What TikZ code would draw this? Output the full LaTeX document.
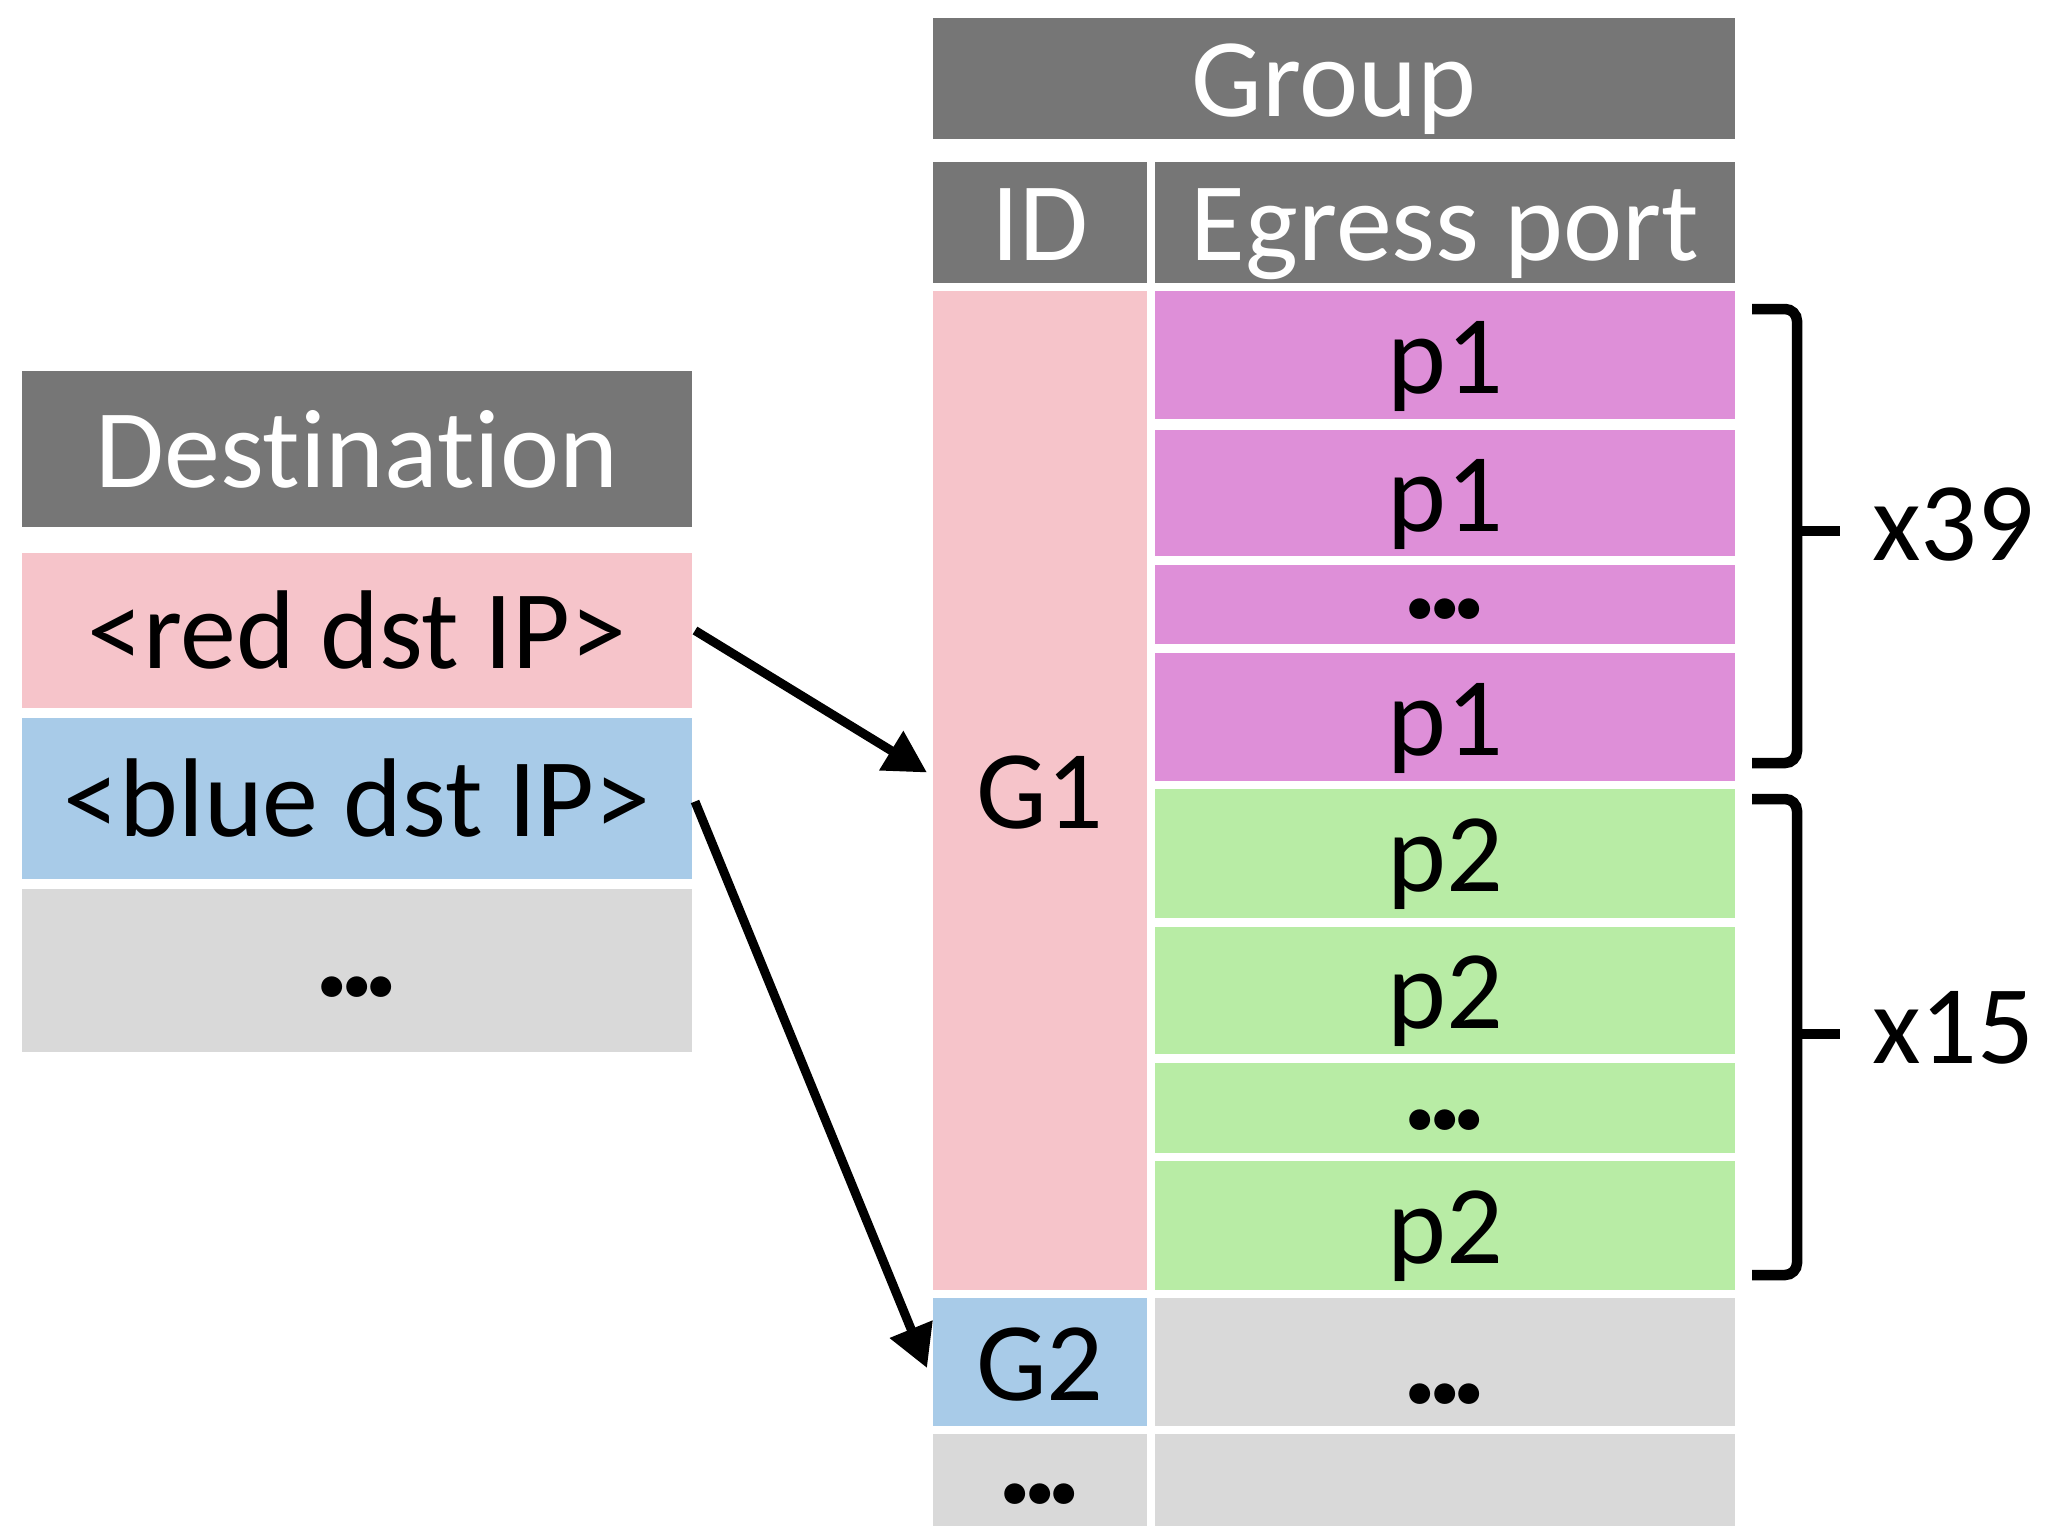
\documentclass[tikz,border=0pt]{standalone}
\usepackage{fontspec}
\setmainfont{Carlito}[Ligatures=NoCommon]
\usetikzlibrary{arrows.meta}

\definecolor{hdr}{RGB}{118,118,118}
\definecolor{rowpink}{RGB}{246,196,202}
\definecolor{rowblue}{RGB}{168,203,232}
\definecolor{rowgray}{RGB}{217,217,217}
\definecolor{rowmag}{RGB}{222,143,216}
\definecolor{rowgreen}{RGB}{184,236,165}

% three heavy dots used as "..." in the tables
\newcommand\heavydots{{\fontsize{140}{140}\selectfont\bfseries .\kern-13pt.\kern-13pt.}}

\begin{document}
\begin{tikzpicture}[x=1pt,y=-1pt,
  cell/.style={inner sep=0pt, outer sep=0pt, anchor=north west,
    text height=76pt, text depth=0pt,
    font=\fontsize{112}{134}\selectfont},
  headcell/.style={cell, fill=hdr, text=white},
  arr/.style={line width=9pt, -{Triangle[length=42pt,width=44pt]}},
  bracket/.style={line width=10.5pt, rounded corners=12pt},
  countlbl/.style={inner sep=0pt, anchor=base west,
    font=\fontsize{112}{134}\selectfont}]

\useasboundingbox (0,0) rectangle (2049,1526);
\fill[white] (0,0) rectangle (2049,1526);

% Destination table
\node[headcell, minimum width=670pt, minimum height=156pt] (dest) at (22,371) {Destination};
\node[cell, fill=rowpink, minimum width=670pt, minimum height=155pt] (red) at (22,553) {<red dst IP>};
\node[cell, fill=rowblue, minimum width=670pt, minimum height=161pt] (blue) at (22,718) {<blue dst IP>};
\node[cell, fill=rowgray, minimum width=670pt, minimum height=163pt, text height=52pt] (more) at (22,889) {\heavydots};

% Group table: headers
\node[headcell, minimum width=802pt, minimum height=121pt] (group) at (933,18) {Group};
\node[headcell, minimum width=214pt, minimum height=121pt] (idh) at (933,162) {ID};
\node[headcell, minimum width=580pt, minimum height=121pt] (egh) at (1155,162) {Egress port};

% Group G1
\node[cell, fill=rowpink, minimum width=214pt, minimum height=999pt] (g1) at (933,291) {G1};
\node[cell, fill=rowmag, minimum width=580pt, minimum height=128pt] (p1a) at (1155,291) {p1};
\node[cell, fill=rowmag, minimum width=580pt, minimum height=126pt] (p1b) at (1155,430) {p1};
\node[cell, fill=rowmag, minimum width=580pt, minimum height=79pt, text height=28pt] (p1c) at (1155,565) {\heavydots};
\node[cell, fill=rowmag, minimum width=580pt, minimum height=128pt] (p1d) at (1155,653) {p1};
\node[cell, fill=rowgreen, minimum width=580pt, minimum height=129pt] (p2a) at (1155,789) {p2};
\node[cell, fill=rowgreen, minimum width=580pt, minimum height=127pt] (p2b) at (1155,927) {p2};
\node[cell, fill=rowgreen, minimum width=580pt, minimum height=90pt, text height=42pt] (p2c) at (1155,1063) {\heavydots};
\node[cell, fill=rowgreen, minimum width=580pt, minimum height=129pt] (p2d) at (1155,1161) {p2};

% Group G2 and following rows
\node[cell, fill=rowblue, minimum width=214pt, minimum height=128pt] (g2) at (933,1298) {G2};
\node[cell, fill=rowgray, minimum width=580pt, minimum height=128pt, text height=82pt] (g2e) at (1155,1298) {\heavydots};
\node[cell, fill=rowgray, minimum width=214pt, minimum height=92pt, text height=46pt] (lastid) at (933,1434) {\heavydots};
\node[cell, fill=rowgray, minimum width=580pt, minimum height=92pt, text height=0pt] (laste) at (1155,1434) {};

% Brackets with repetition counts
\coordinate (b1tick) at (1840,531);
\draw[bracket] (1752,309) -- (1797,309) -- (1797,763) -- (1752,763);
\draw[line width=10.5pt] (1797,531) -- (b1tick);
\node[countlbl] (n39) at (1872,560) {x39};

\coordinate (b2tick) at (1840,1034);
\draw[bracket] (1752,799) -- (1797,799) -- (1797,1275) -- (1752,1275);
\draw[line width=10.5pt] (1797,1034) -- (b2tick);
\node[countlbl] (n15) at (1872,1063) {x15};

% Lookups from destination to group
\draw[arr] ([xshift=3pt]red.east) -- ([shift={(-6,-18)}]g1.west);
\draw[arr] ([shift={(3,3)}]blue.east) -- ([shift={(-6,6)}]g2.west);

\end{tikzpicture}
\end{document}
